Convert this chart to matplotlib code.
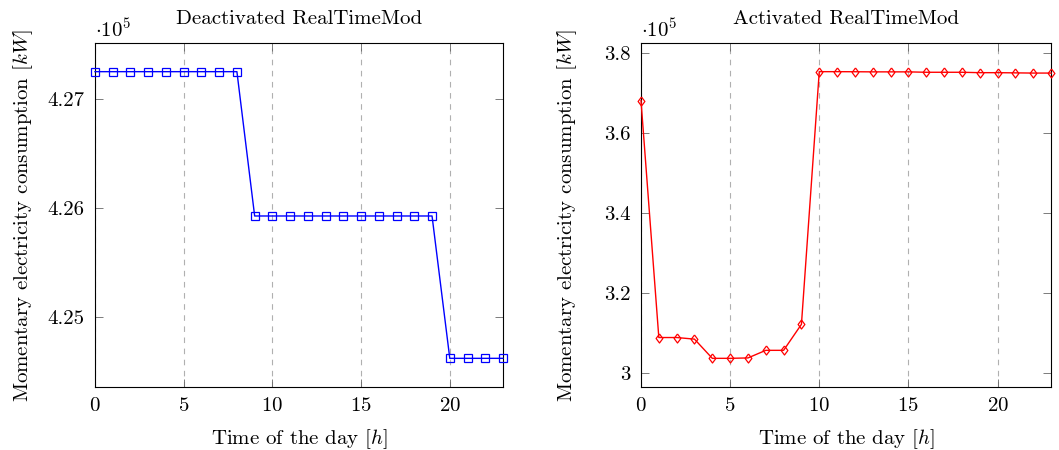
import matplotlib
matplotlib.use("Agg")
import matplotlib.pyplot as plt
from matplotlib.ticker import FuncFormatter

plt.rcParams['font.family'] = 'serif'
plt.rcParams['font.serif'] = ['cmr10']
plt.rcParams['mathtext.fontset'] = 'cm'
plt.rcParams['axes.formatter.use_mathtext'] = True

hours = list(range(24))

# consumption in kW, deactivated vs activated RealTimeMod
deactivated = [427247] * 9 + [425927] * 11 + [424625] * 4
activated = [368100, 308900, 308900, 308500, 303700, 303700, 303800, 305700,
             305700, 312200, 375350, 375350, 375330, 375300, 375300, 375300,
             375200, 375200, 375200, 375100, 375100, 375050, 375000, 375000]

scale = 1e5
fs = 15
diamond = [(0, 1), (0.75, 0), (0, -1), (-0.75, 0), (0, 1)]


def style_axes(ax, title, yticks, fmt):
    ax.set_xlim(0, 23)
    ax.set_xticks([0, 5, 10, 15, 20])
    ax.set_yticks(yticks)
    ax.yaxis.set_major_formatter(FuncFormatter(fmt))
    ax.tick_params(direction='in', top=True, right=True, labelsize=fs,
                   length=5.5, width=0.6, color='#666666', pad=7.5)
    ax.grid(axis='x', linestyle=(0, (5, 5)), color='#b0b0b0', linewidth=0.8)
    for s in ax.spines.values():
        s.set_linewidth(0.8)
    ax.set_title(title, fontsize=fs, pad=14)
    ax.set_xlabel('Time of the day [$h$]', fontsize=fs, labelpad=8.5)
    ax.set_ylabel('Momentary electricity consumption [$kW$]', fontsize=fs)
    ax.text(0.0, 1.005, r'$\cdot 10^{5}$', transform=ax.transAxes,
            fontsize=fs, ha='left', va='bottom')


fig = plt.figure(figsize=(10.59, 4.5), dpi=100)
ax1 = fig.add_axes([95 / 1059, 63 / 450, 408 / 1059, 344 / 450])
ax2 = fig.add_axes([641 / 1059, 63 / 450, 410 / 1059, 344 / 450])

y1 = [v / scale for v in deactivated]
y2 = [v / scale for v in activated]

ax1.plot(hours, y1, color='blue', linewidth=1.0, marker='s', markersize=6,
         markerfacecolor='none', markeredgewidth=0.9, clip_on=False, zorder=3)
ax2.plot(hours, y2, color='red', linewidth=1.0, marker=diamond, markersize=6.5,
         markerfacecolor='none', markeredgewidth=0.9, clip_on=False, zorder=3)

r1 = max(y1) - min(y1)
ax1.set_ylim(min(y1) - 0.1 * r1, max(y1) + 0.1 * r1)
r2 = max(y2) - min(y2)
ax2.set_ylim(min(y2) - 0.1 * r2, max(y2) + 0.1 * r2)

style_axes(ax1, 'Deactivated RealTimeMod', [4.25, 4.26, 4.27],
           lambda v, p: f'{v:.2f}')
style_axes(ax2, 'Activated RealTimeMod', [3.0, 3.2, 3.4, 3.6, 3.8],
           lambda v, p: ('%.1f' % v).rstrip('0').rstrip('.'))

ax1.yaxis.set_label_coords(-0.148, 0.5)
ax2.yaxis.set_label_coords(-0.152, 0.5)

fig.savefig('out.png', dpi=100)
